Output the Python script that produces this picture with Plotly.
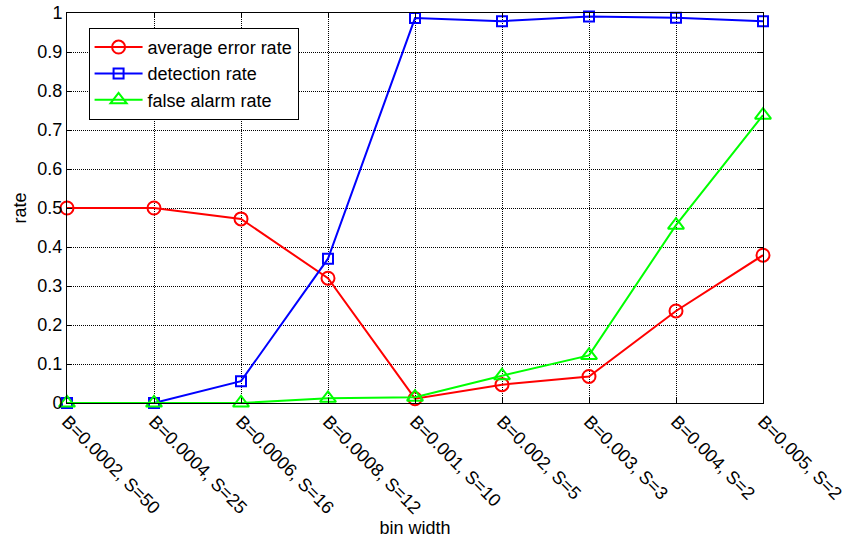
import plotly.graph_objects as go

categories = ["B=0.0002, S=50", "B=0.0004, S=25", "B=0.0006, S=16", "B=0.0008, S=12",
              "B=0.001, S=10", "B=0.002, S=5", "B=0.003, S=3", "B=0.004, S=2", "B=0.005, S=2"]
average_error_rate = [0.5, 0.5, 0.472, 0.32, 0.011, 0.047, 0.068, 0.236, 0.379]
detection_rate = [0.0, 0.0, 0.056, 0.37, 0.987, 0.979, 0.991, 0.988, 0.979]
false_alarm_rate = [0.0, 0.0, 0.0, 0.012, 0.015, 0.07, 0.122, 0.456, 0.738]
y_ticks = [0, 0.1, 0.2, 0.3, 0.4, 0.5, 0.6, 0.7, 0.8, 0.9, 1]
y_tick_text = ["0", "0.1", "0.2", "0.3", "0.4", "0.5", "0.6", "0.7", "0.8", "0.9", "1"]

x = list(range(len(categories)))
font = "Liberation Sans, Arial, sans-serif"
fsize = 18

fig = go.Figure()
fig.add_trace(go.Scatter(
    x=x, y=average_error_rate, name="average error rate", mode="lines+markers",
    line=dict(color="#ff0000", width=2), cliponaxis=False,
    marker=dict(symbol="circle-open", size=13, color="#ff0000", line=dict(width=2)),
))
fig.add_trace(go.Scatter(
    x=x, y=detection_rate, name="detection rate", mode="lines+markers",
    line=dict(color="#0000ff", width=2), cliponaxis=False,
    marker=dict(symbol="square-open", size=10, color="#0000ff", line=dict(width=2)),
))
fig.add_trace(go.Scatter(
    x=x, y=false_alarm_rate, name="false alarm rate", mode="lines+markers",
    line=dict(color="#00ff00", width=2), cliponaxis=False,
    marker=dict(symbol="triangle-up-open", size=14, color="#00ff00", line=dict(width=2)),
))

fig.update_layout(
    width=846, height=541,
    margin=dict(l=67, r=83, t=13, b=138),
    paper_bgcolor="white", plot_bgcolor="white",
    font=dict(family=font, size=fsize, color="black"),
    showlegend=True,
    legend=dict(
        x=0.031, y=0.962, xanchor="left", yanchor="top",
        bgcolor="white", bordercolor="black", borderwidth=1,
        font=dict(family=font, size=fsize, color="black"),
        tracegroupgap=0, itemwidth=48,
    ),
)
fig.update_xaxes(
    range=[0, len(categories) - 1], automargin=False,
    tickmode="array", tickvals=x, ticktext=categories, tickangle=45,
    tickfont=dict(family=font, size=fsize, color="black"),
    showgrid=True, gridcolor="black", griddash="1px,1px", gridwidth=1,
    showline=True, linecolor="black", linewidth=1, mirror="ticks",
    ticks="inside", ticklen=5, tickcolor="black",
    zeroline=False,
    title=dict(text="bin width", font=dict(family=font, size=fsize), standoff=0),
)
fig.update_yaxes(
    range=[0, 1], automargin=False,
    tickmode="array", tickvals=y_ticks, ticktext=y_tick_text,
    tickfont=dict(family=font, size=fsize, color="black"),
    showgrid=True, gridcolor="black", griddash="1px,1px", gridwidth=1,
    showline=True, linecolor="black", linewidth=1, mirror="ticks",
    ticks="inside", ticklen=5, tickcolor="black",
    zeroline=False,
    title=dict(text="rate", font=dict(family=font, size=fsize), standoff=6),
)

fig.write_html("out.html")
